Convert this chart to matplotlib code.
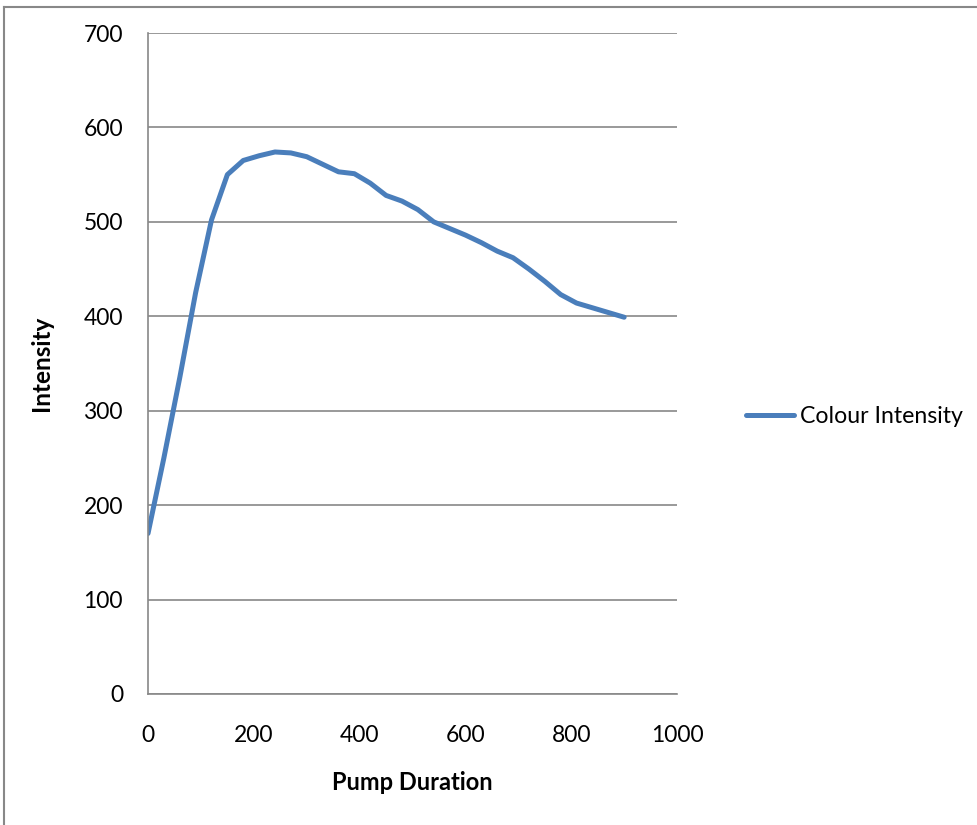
import matplotlib.pyplot as plt

# pump duration (s) and measured colour intensity
duration = [0, 30, 60, 90, 120, 150, 180, 210, 240, 270, 300, 330, 360, 390,
            420, 450, 480, 510, 540, 570, 600, 630, 660, 690, 720, 750, 780,
            810, 840, 870, 900]
intensity = [170, 250, 335, 425, 502, 550, 565, 570, 574, 573, 569, 561, 553,
             551, 541, 528, 522, 513, 500, 493, 486, 478, 469, 462, 450, 437,
             423, 414, 409, 404, 399]
series_name = 'Colour Intensity'
x_ticks = [0, 200, 400, 600, 800, 1000]
y_ticks = [0, 100, 200, 300, 400, 500, 600, 700]

plt.rcParams['font.family'] = ['Lato', 'DejaVu Sans']

fig = plt.figure(figsize=(9.77, 8.25), dpi=100)
ax = fig.add_axes([0.1515, 0.1588, 0.5415, 0.8012])

ax.plot(duration, intensity, color='#4A7EBB', lw=3.6, label=series_name,
        solid_capstyle='round', solid_joinstyle='round')

ax.set_xlim(0, 1000)
ax.set_ylim(0, 700)
ax.set_xticks(x_ticks)
ax.set_yticks(y_ticks)
ax.tick_params(length=0, labelsize=16.5)
ax.tick_params(axis='x', pad=22)
ax.tick_params(axis='y', pad=18)

ax.grid(axis='y', color='#888888', lw=1.2)
ax.set_axisbelow(True)
for s in ['top', 'right']:
    ax.spines[s].set_visible(False)
for s in ['left', 'bottom']:
    ax.spines[s].set_color('#888888')
    ax.spines[s].set_linewidth(1.2)

ax.set_xlabel('Pump Duration', fontsize=17, fontweight='bold', labelpad=18)
ax.set_ylabel('Intensity', fontsize=17.5, fontweight='bold', labelpad=22)

ax.legend(loc='center left', bbox_to_anchor=(1.09, 0.42), frameon=False,
          fontsize=16.7, handlelength=2.1, handletextpad=0.25)

# outer chart border (only left and top edges fall inside the picture)
fig.add_artist(plt.Line2D([0.004, 0.004], [0, 0.992], color='#888888', lw=1.5))
fig.add_artist(plt.Line2D([0.004, 1], [0.992, 0.992], color='#888888', lw=1.5))

fig.savefig('out.png', dpi=100)
